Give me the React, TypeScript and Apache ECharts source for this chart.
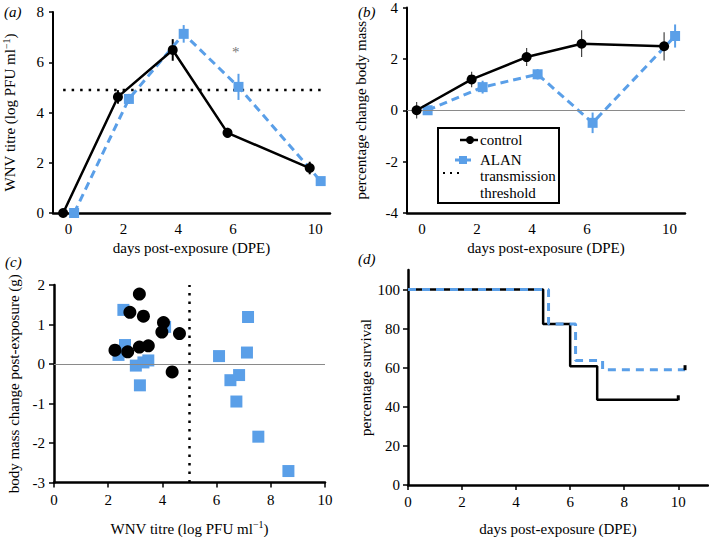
import React, { useEffect, useRef } from 'react';
import * as echarts from 'echarts';

// ---------- data ----------
const days = [0, 2, 4, 6, 10];
const titreControl = [0, 4.62, 6.49, 3.19, 1.79];
const titreControlSE = [0, 0.27, 0.43, 0.2, 0.25];
const titreAlan = [0, 4.54, 7.13, 5.02, 1.27];
const titreAlanSE = [0, 0.2, 0.35, 0.52, 0];
const transmissionThreshold = 4.9;
const significantDay = 6;
const significantLevel = 6.4;

const massControl = [0, 1.2, 2.07, 2.59, 2.49];
const massControlSE = [0.32, 0.3, 0.35, 0.52, 0.55];
const massAlan = [0, 0.9, 1.4, -0.49, 2.89];
const massAlanSE = [0.15, 0.25, 0.2, 0.4, 0.45];

const scatterControlTitre = [2.25, 2.8, 3.15, 3.3, 2.72, 3.15, 3.48, 3.98, 4.04, 4.63, 4.36];
const scatterControlMass = [0.35, 1.31, 1.77, 1.21, 0.31, 0.43, 0.46, 0.81, 1.05, 0.77, -0.2];
const scatterAlanTitre = [2.56, 2.62, 2.38, 3.02, 3.3, 3.48, 3.17, 4.1, 6.09, 7.16, 7.12, 6.51, 6.83, 6.73, 7.54, 8.65];
const scatterAlanMass = [1.37, 0.48, 0.23, -0.04, 0.04, 0.09, -0.54, 0.94, 0.2, 1.19, 0.29, -0.41, -0.28, -0.95, -1.84, -2.71];

const survControlDays = [0, 5, 6, 7, 10];
const survControl = [100, 82.4, 60.7, 43.6, 43.6];
const survAlanDays = [0, 5.2, 6.2, 7.2, 10.25];
const survAlan = [100, 82.4, 63.7, 59, 59];

const seriesNames = ['control', 'ALAN'];
const thresholdLabel = ['transmission', 'threshold'];
const panelLabels = ['(a)', '(b)', '(c)', '(d)'];

// ---------- styling ----------
const FONT = 'Liberation Serif';
const BLUE = '#5a9fe8';
const BLACK = '#000';
const GRAY = '#8a8a8a';
const STAR = '#777777';

// broken DPE axis: day 10 sits one interval after day 6
const pos = (d: number) => (d <= 6 ? d : 6 + (d - 6) * 0.75);
const DODGE = 0.2;

const labelStyle = { color: BLACK, fontSize: 15, fontFamily: FONT };
const nameStyle = {
  color: BLACK,
  fontSize: 15,
  fontFamily: FONT,
  rich: {
    sup: { fontSize: 10, fontFamily: FONT, color: BLACK, verticalAlign: 'top', padding: [0, 0, 8, 0] },
  },
};

const errorBars = (idx: number, xs: number[], ys: number[], se: number[], color: string, width: number) => ({
  type: 'custom',
  xAxisIndex: idx,
  yAxisIndex: idx,
  data: xs.map((x, i) => [x, ys[i] - se[i], ys[i] + se[i]]),
  encode: { x: 0, y: [1, 2] },
  itemStyle: { color },
  z: 3,
  renderItem: (_p: any, api: any) => {
    const a = api.coord([api.value(0), api.value(1)]);
    const b = api.coord([api.value(0), api.value(2)]);
    return {
      type: 'line',
      shape: { x1: a[0], y1: a[1], x2: b[0], y2: b[1] },
      style: { stroke: color, lineWidth: width },
    };
  },
});

const dpeAxis = (idx: number, min: number, max: number) => ({
  gridIndex: idx,
  type: 'value',
  min,
  max,
  axisLine: { onZero: false, lineStyle: { color: BLACK, width: 2.5 } },
  axisTick: { show: false },
  splitLine: { show: false },
  axisLabel: {
    ...labelStyle,
    margin: 8,
    customValues: days.map(pos),
    formatter: (v: number) => {
      const i = days.findIndex((d) => Math.abs(pos(d) - v) < 1e-6);
      return i >= 0 ? String(days[i]) : '';
    },
  },
  name: 'days post-exposure (DPE)',
  nameLocation: 'middle',
  nameGap: 27,
  nameTextStyle: nameStyle,
});

const yAx = (idx: number, min: number, max: number, interval: number, name: string, gap: number, extra: any = {}) => ({
  gridIndex: idx,
  type: 'value',
  min,
  max,
  interval,
  axisLine: { onZero: false, lineStyle: { color: BLACK, width: 2 } },
  axisTick: { show: true, inside: false, length: 4, lineStyle: { color: BLACK, width: 1.5 } },
  splitLine: { show: false },
  axisLabel: { ...labelStyle, margin: 9 },
  name,
  nameLocation: 'middle',
  nameGap: gap,
  nameTextStyle: nameStyle,
  ...extra,
});

export default function App() {
  const ref = useRef<HTMLDivElement>(null);

  useEffect(() => {
    if (!ref.current) return;
    const chart = echarts.init(ref.current, undefined, { renderer: 'svg' });

    const ctrlX = days.map((d) => pos(d) - DODGE);
    const alanX = days.map((d) => pos(d) + DODGE);

    const option: any = {
      animation: false,
      textStyle: { fontFamily: FONT },
      grid: [
        { left: 52, top: 12, width: 278, height: 201 },
        { left: 407, top: 7, width: 278, height: 206 },
        { left: 54, top: 285, width: 271, height: 203 },
        { left: 408, top: 270, width: 300, height: 219 },
      ],
      xAxis: [
        dpeAxis(0, -0.57, 9.54),
        dpeAxis(1, -0.55, 9.56),
        {
          gridIndex: 2,
          type: 'value',
          min: 0,
          max: 10,
          interval: 2,
          axisLine: { onZero: false, lineStyle: { color: BLACK, width: 2.5 } },
          axisTick: { show: true, length: 5, lineStyle: { color: BLACK, width: 1.5 } },
          splitLine: { show: false },
          axisLabel: { ...labelStyle, margin: 10 },
          name: 'WNV titre (log PFU ml{sup|−1})',
          nameLocation: 'middle',
          nameGap: 37,
          nameTextStyle: nameStyle,
        },
        {
          gridIndex: 3,
          type: 'value',
          min: 0,
          max: 11.1,
          axisLine: { onZero: false, lineStyle: { color: BLACK, width: 2.5 } },
          axisTick: { show: true, length: 5, lineStyle: { color: BLACK, width: 1.5 }, customValues: [0, 2, 4, 6, 8, 10] },
          splitLine: { show: false },
          axisLabel: { ...labelStyle, margin: 9, customValues: [0, 2, 4, 6, 8, 10] },
          name: 'days post-exposure (DPE)',
          nameLocation: 'middle',
          nameGap: 36,
          nameTextStyle: nameStyle,
        },
      ],
      yAxis: [
        yAx(0, 0, 8, 2, 'WNV titre (log PFU ml{sup|−1})', 34),
        yAx(1, -4, 4, 2, 'percentage change body mass', 39),
        yAx(2, -3, 2, 1, 'body mass change post-exposure (g)', 33, {
          axisTick: { show: true, length: 5, lineStyle: { color: BLACK, width: 1.5 } },
          axisLine: { onZero: false, lineStyle: { color: BLACK, width: 2.5 } },
        }),
        yAx(3, 0, 110, 20, 'percentage survival', 35, {
          axisTick: { show: true, length: 5, lineStyle: { color: BLACK, width: 1.5 }, customValues: [0, 20, 40, 60, 80, 100] },
          axisLabel: { ...labelStyle, margin: 8, customValues: [0, 20, 40, 60, 80, 100] },
          axisLine: { onZero: false, lineStyle: { color: BLACK, width: 2.5 } },
        }),
      ],
      series: [
        // ---- panel a ----
        {
          type: 'line',
          xAxisIndex: 0,
          yAxisIndex: 0,
          data: [
            [pos(days[0]) - DODGE, transmissionThreshold],
            [pos(days[days.length - 1]) + DODGE + 0.05, transmissionThreshold],
          ],
          symbol: 'none',
          lineStyle: { color: BLACK, width: 2.5, type: [2.5, 6] },
          z: 1,
        },
        errorBars(0, alanX, titreAlan, titreAlanSE, BLUE, 2),
        {
          name: seriesNames[1],
          type: 'line',
          xAxisIndex: 0,
          yAxisIndex: 0,
          data: alanX.map((x, i) => [x, titreAlan[i]]),
          symbol: 'rect',
          symbolSize: 10,
          itemStyle: { color: BLUE, opacity: 1 },
          lineStyle: { color: BLUE, width: 3, type: [8, 5] },
          z: 4,
        },
        errorBars(0, ctrlX, titreControl, titreControlSE, BLACK, 2),
        {
          name: seriesNames[0],
          type: 'line',
          xAxisIndex: 0,
          yAxisIndex: 0,
          data: ctrlX.map((x, i) => [x, titreControl[i]]),
          symbol: 'circle',
          symbolSize: 10,
          itemStyle: { color: BLACK, opacity: 1 },
          lineStyle: { color: BLACK, width: 2.5 },
          z: 5,
        },
        {
          type: 'custom',
          xAxisIndex: 0,
          yAxisIndex: 0,
          data: [[pos(significantDay) + 0.1, significantLevel]],
          encode: { x: 0, y: 1 },
          itemStyle: { color: STAR },
          z: 6,
          renderItem: (_p: any, api: any) => {
            const c = api.coord([api.value(0), api.value(1)]);
            return {
              type: 'text',
              x: c[0],
              y: c[1],
              style: {
                text: '*',
                fill: STAR,
                font: `15px "${FONT}"`,
                align: 'center',
                verticalAlign: 'middle',
              },
            };
          },
        },
        // ---- panel b ----
        {
          type: 'line',
          xAxisIndex: 1,
          yAxisIndex: 1,
          data: [],
          markLine: {
            silent: true,
            symbol: 'none',
            label: { show: false },
            lineStyle: { color: GRAY, width: 1, type: 'solid' },
            data: [{ yAxis: 0 }],
          },
        },
        errorBars(1, alanX, massAlan, massAlanSE, BLUE, 2),
        {
          name: seriesNames[1],
          type: 'line',
          xAxisIndex: 1,
          yAxisIndex: 1,
          data: alanX.map((x, i) => [x, massAlan[i]]),
          symbol: 'rect',
          symbolSize: 10,
          itemStyle: { color: BLUE, opacity: 1 },
          lineStyle: { color: BLUE, width: 3, type: [8, 5] },
          z: 4,
        },
        errorBars(1, ctrlX, massControl, massControlSE, '#444', 1.2),
        {
          name: seriesNames[0],
          type: 'line',
          xAxisIndex: 1,
          yAxisIndex: 1,
          data: ctrlX.map((x, i) => [x, massControl[i]]),
          symbol: 'circle',
          symbolSize: 10,
          itemStyle: { color: BLACK, opacity: 1 },
          lineStyle: { color: BLACK, width: 2.5 },
          z: 5,
        },
        // ---- panel c ----
        {
          name: seriesNames[1],
          type: 'scatter',
          xAxisIndex: 2,
          yAxisIndex: 2,
          data: scatterAlanTitre.map((x, i) => [x, scatterAlanMass[i]]),
          symbol: 'rect',
          symbolSize: 12,
          itemStyle: { color: BLUE, opacity: 1 },
          z: 4,
          markLine: {
            silent: true,
            symbol: 'none',
            label: { show: false },
            data: [
              { yAxis: 0, lineStyle: { color: GRAY, width: 1, type: 'solid' } },
              { xAxis: transmissionThreshold + 0.1, lineStyle: { color: BLACK, width: 2.5, type: [2.5, 6] } },
            ],
          },
        },
        {
          name: seriesNames[0],
          type: 'scatter',
          xAxisIndex: 2,
          yAxisIndex: 2,
          data: scatterControlTitre.map((x, i) => [x, scatterControlMass[i]]),
          symbol: 'circle',
          symbolSize: 13,
          itemStyle: { color: BLACK, opacity: 1 },
          z: 5,
        },
        // ---- panel d ----
        {
          name: seriesNames[0],
          type: 'line',
          xAxisIndex: 3,
          yAxisIndex: 3,
          step: 'end',
          data: survControlDays.map((x, i) => [x, survControl[i]]),
          symbol: 'none',
          lineStyle: { color: BLACK, width: 2.5 },
          z: 3,
        },
        {
          name: seriesNames[1],
          type: 'line',
          xAxisIndex: 3,
          yAxisIndex: 3,
          step: 'end',
          data: survAlanDays.map((x, i) => [x, survAlan[i]]),
          symbol: 'none',
          lineStyle: { color: BLUE, width: 3, type: [8, 6] },
          z: 4,
        },
        {
          type: 'scatter',
          xAxisIndex: 3,
          yAxisIndex: 3,
          data: [
            [survControlDays[survControlDays.length - 1], survControl[survControl.length - 1]],
            [survAlanDays[survAlanDays.length - 1], survAlan[survAlan.length - 1]],
          ],
          symbol: 'rect',
          symbolSize: [3, 5],
          symbolOffset: [0, -2],
          itemStyle: { color: BLACK, opacity: 1 },
          z: 6,
        },
      ],
      graphic: [
        ...[
          [4, 12],
          [358, 12],
          [5, 262],
          [358, 259],
        ].map(([x, y], i) => ({
          type: 'text',
          x,
          y,
          style: {
            text: panelLabels[i],
            font: `italic 15px "${FONT}"`,
            fill: BLACK,
            verticalAlign: 'middle',
          },
        })),
        // legend in panel b
        {
          type: 'rect',
          shape: { x: 438, y: 128, width: 121, height: 75 },
          style: { fill: '#fff', stroke: BLACK, lineWidth: 2 },
          z: 20,
        },
        {
          type: 'line',
          shape: { x1: 460, y1: 140, x2: 478, y2: 140 },
          style: { stroke: BLACK, lineWidth: 2.5 },
          z: 21,
        },
        { type: 'circle', shape: { cx: 470, cy: 140, r: 4 }, style: { fill: BLACK }, z: 21 },
        {
          type: 'line',
          shape: { x1: 455, y1: 160, x2: 475, y2: 160 },
          style: { stroke: BLUE, lineWidth: 3, lineDash: [6, 4] },
          z: 21,
        },
        { type: 'rect', shape: { x: 459, y: 156, width: 8, height: 8 }, style: { fill: BLUE }, z: 21 },
        {
          type: 'line',
          shape: { x1: 443, y1: 173, x2: 460, y2: 173 },
          style: { stroke: BLACK, lineWidth: 2, lineDash: [2, 5] },
          z: 21,
        },
        ...[
          [seriesNames[0], 140],
          [seriesNames[1], 160],
          [thresholdLabel[0], 176],
          [thresholdLabel[1], 193],
        ].map(([t, y]) => ({
          type: 'text',
          x: 480,
          y: y as number,
          z: 21,
          style: { text: t as string, font: `15px "${FONT}"`, fill: BLACK, verticalAlign: 'middle' },
        })),
      ],
    };

    chart.setOption(option);
    return () => chart.dispose();
  }, []);

  return (
    <div
      ref={ref}
      style={{ position: 'fixed', left: 0, top: 0, width: 709, height: 537, background: '#fff' }}
    />
  );
}
